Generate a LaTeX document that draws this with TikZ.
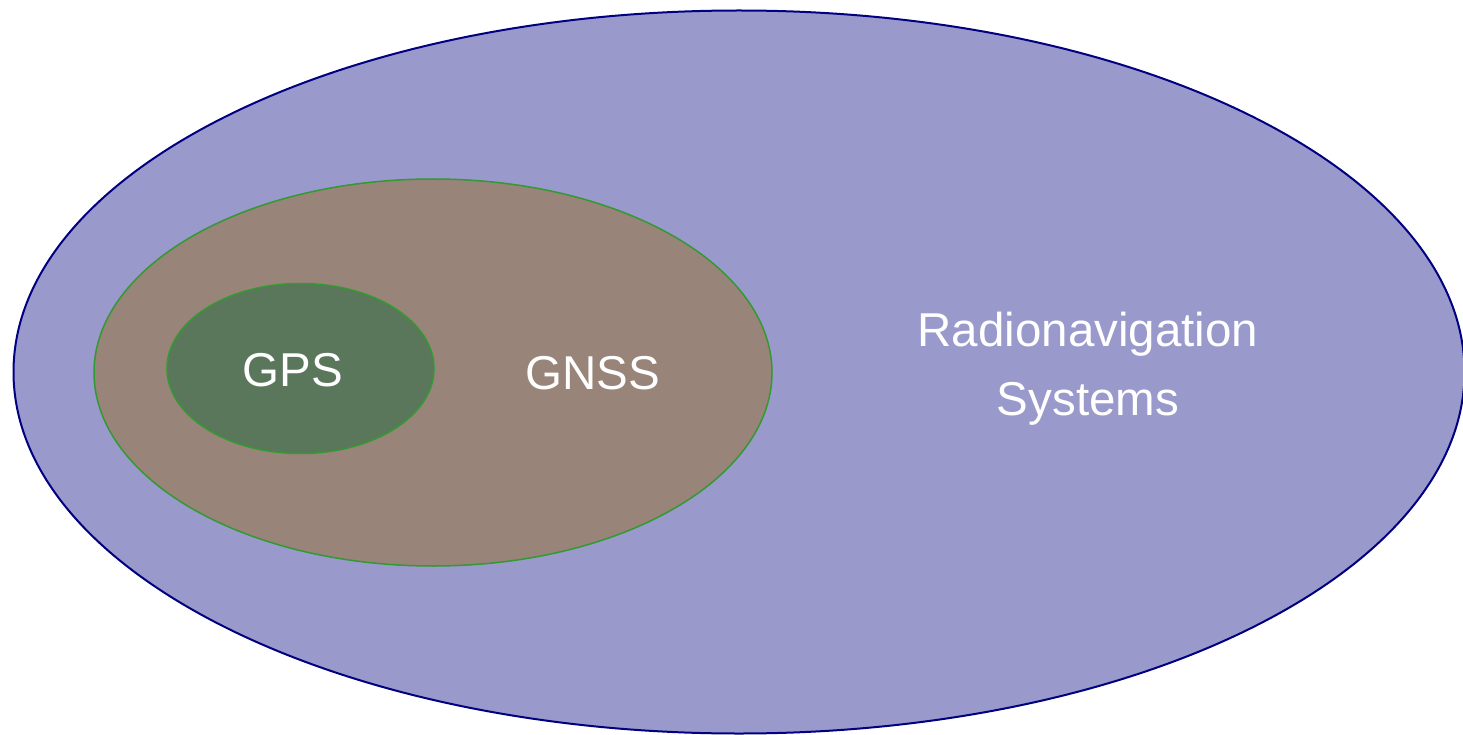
\documentclass[tikz,border=0pt]{standalone}
\usepackage{fontspec}
\setmainfont{Liberation Sans}
\definecolor{outerfill}{HTML}{9999CC}
\definecolor{outerline}{HTML}{000080}
\definecolor{gnssfill}{HTML}{988478}
\definecolor{gpsfill}{HTML}{5B775B}
\definecolor{greenline}{HTML}{339933}
\tikzset{
  setlabel/.style={text=white, font=\fontsize{47.5}{69}\selectfont, align=center},
}
\begin{document}
\begin{tikzpicture}[x=1pt,y=-1pt]
\useasboundingbox (0,0) rectangle (1463,735);
\draw[fill=outerfill, draw=outerline, line width=2pt] (739,372) ellipse [x radius=725.5, y radius=361.5];
\draw[fill=gnssfill, draw=greenline, line width=1.5pt] (433,372.5) ellipse [x radius=339, y radius=193.5];
\draw[fill=gpsfill, draw=greenline, line width=1.5pt] (300.5,368.5) ellipse [x radius=133.5, y radius=85];
\node[setlabel] (gps) at (293,370) {GPS};
\node[setlabel] (gnss) at (593,373) {GNSS};
\node[setlabel] (radio) at (1088,369) {Radionavigation\\Systems};
\end{tikzpicture}
\end{document}
